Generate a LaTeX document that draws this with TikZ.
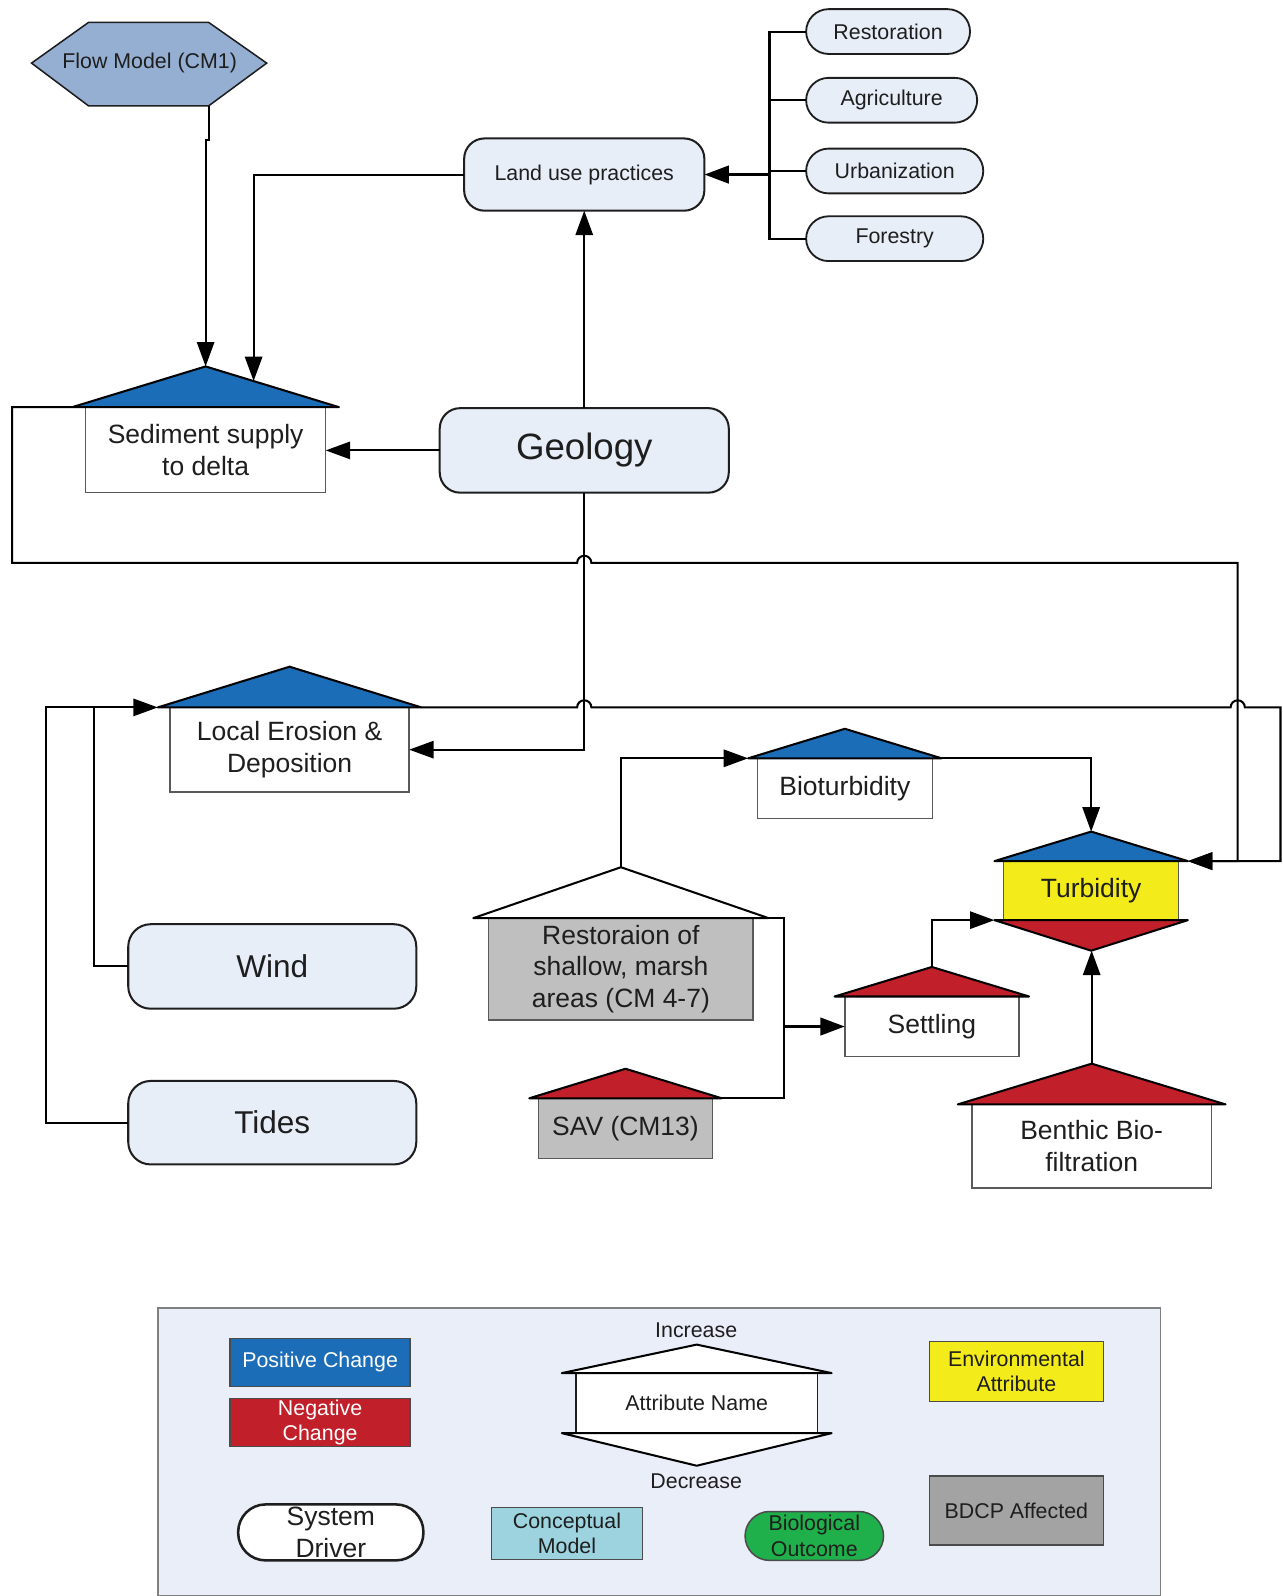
\documentclass[tikz,border=0pt]{standalone}
\usepackage{fontspec}
\setmainfont{Liberation Sans}
\usetikzlibrary{arrows.meta,calc}

\definecolor{posblue}{HTML}{1B6DB7}
\definecolor{negred}{HTML}{C1202A}
\definecolor{envyellow}{HTML}{F3EB1A}
\definecolor{bdcpgray}{HTML}{BFBFBF}
\definecolor{bdcpdark}{HTML}{A3A3A3}
\definecolor{drivefill}{HTML}{E8EEF8}
\definecolor{cmblue}{HTML}{95AFD3}
\definecolor{cmcyan}{HTML}{9CD3DF}
\definecolor{biogreen}{HTML}{1FB04B}
\definecolor{legendfill}{HTML}{E9EEF8}
\definecolor{ink}{HTML}{1E1E1E}

\newcommand\fntS{\fontsize{21}{25}\selectfont}
\newcommand\fntM{\fontsize{26}{31}\selectfont}
\newcommand\fntL{\fontsize{31}{36}\selectfont}
\newcommand\fntXL{\fontsize{36}{42}\selectfont}

% triangle cap above a box: node, overhang, height, fill
\newcommand\uptri[4]{%
  \draw[tri, fill=#4] ([xshift=-#2pt]#1.north west) -- ([yshift=#3pt]#1.north)
    -- ([xshift=#2pt]#1.north east) -- cycle;
  \coordinate (#1-bl) at ([xshift=-#2pt]#1.north west);
  \coordinate (#1-br) at ([xshift=#2pt]#1.north east);
  \coordinate (#1-apex) at ([yshift=#3pt]#1.north);
}
% triangle cap below a box
\newcommand\dntri[4]{%
  \draw[tri, fill=#4] ([xshift=-#2pt]#1.south west) -- ([yshift=-#3pt]#1.south)
    -- ([xshift=#2pt]#1.south east) -- cycle;
  \coordinate (#1-dl) at ([xshift=-#2pt]#1.south west);
  \coordinate (#1-dr) at ([xshift=#2pt]#1.south east);
  \coordinate (#1-dapex) at ([yshift=-#3pt]#1.south);
}

\tikzset{
  every node/.style={outer sep=0pt, inner sep=0pt, text=ink, align=center},
  driver/.style={draw=ink, line width=2pt, fill=drivefill, rounded corners=20pt},
  pill/.style={draw=ink, line width=1.8pt, fill=drivefill, rounded corners=22pt,
    minimum height=44pt, font=\fntS},
  attr/.style={draw=gray!70!black, line width=1.5pt, fill=white, font=\fntM},
  tri/.style={draw=black, line width=2pt, line join=round},
  conn/.style={draw=black, line width=2pt},
  arr/.style={conn, -{Triangle[length=24pt,width=17pt]}},
  thickarr/.style={draw=black, line width=3.2pt, -{Triangle[length=24pt,width=17pt]}},
  legbox/.style={draw=ink!80, line width=1.5pt, font=\fntS},
}

\begin{document}
\begin{tikzpicture}[x=1pt,y=-1pt]
\useasboundingbox (0,0) rectangle (1260,1568);

% ---------- flow model ----------
\draw[fill=cmblue, draw=ink, line width=1.5pt]
  (31,62) -- (87,22) -- (205,22) -- (262,62) -- (205,104) -- (87,104) -- cycle;
\node[font=\fntS] (flow) at (147,62) {Flow Model (CM1)};
\coordinate (flowout) at (205,104);

% ---------- land use and its drivers ----------
\node[driver, minimum width=236pt, minimum height=71pt, font=\fntS] (land) at (574,171.5) {Land use practices};
\node[pill, minimum width=161pt] (p1) at (872.5,31) {Restoration};
\node[pill, minimum width=168pt] (p2) at (876,98.5) {Agriculture};
\node[pill, minimum width=174pt] (p3) at (879,168) {Urbanization};
\node[pill, minimum width=174pt] (p4) at (879,234.5) {Forestry};
\coordinate (bus) at (756,171.5);

% ---------- geology ----------
\node[driver, minimum width=284pt, minimum height=83pt, font=\fntXL] (geo) at (574,442.5) {Geology};

% ---------- attributes ----------
\node[attr, minimum width=236pt, minimum height=84pt] (sed) at (202,442) {Sediment supply\\to delta};
\uptri{sed}{13}{40}{posblue}

\node[attr, minimum width=235pt, minimum height=83pt] (ero) at (284.5,736.5) {Local Erosion \&\\Deposition};
\uptri{ero}{12}{40}{posblue}

\node[attr, minimum width=172pt, minimum height=59pt] (bio) at (830,774.5) {Bioturbidity};
\uptri{bio}{9}{29}{posblue}

\node[attr, fill=envyellow, minimum width=172pt, minimum height=58pt] (turb) at (1072,875) {Turbidity};
\uptri{turb}{9}{29}{posblue}
\dntri{turb}{9}{30}{negred}

\node[attr, fill=bdcpgray, minimum width=260pt, minimum height=100pt] (rest) at (610,952) {Restoraion of\\shallow, marsh\\areas (CM 4-7)};
\uptri{rest}{15}{50}{white}

\node[attr, minimum width=171pt, minimum height=59pt] (settle) at (915.5,1008.5) {Settling};
\uptri{settle}{10}{29}{negred}

\node[attr, fill=bdcpgray, minimum width=171pt, minimum height=59pt] (sav) at (614.5,1108.5) {SAV (CM13)};
\uptri{sav}{9}{29}{negred}

\node[attr, minimum width=235pt, minimum height=82pt] (benth) at (1072.5,1126) {Benthic Bio-\\filtration};
\uptri{benth}{14}{40}{negred}

% ---------- physical drivers ----------
\node[driver, rounded corners=22pt, minimum width=283pt, minimum height=83pt, font=\fntL] (wind) at (267.5,949.5) {Wind};
\node[driver, rounded corners=22pt, minimum width=283pt, minimum height=82pt, font=\fntL] (tides) at (267.5,1103) {Tides};

% ---------- connectors ----------
\draw[arr] (flowout) -- ++(0,34) -| (sed-apex);
\coordinate (sedin) at ($(sed-apex)!0.36!(sed-br)$);
\draw[arr] (land.west) -| (sedin);
\draw[arr] (geo.west) -- (geo.west -| sed.east);
\draw[arr] (geo.north) -- (land.south);
\draw[arr] (geo.south) |- (ero.east);

\draw[conn] (p1.west) -- (p1.west -| bus) |- (p4.west);
\draw[conn] (p2.west) -- (p2.west -| bus);
\draw[conn] (p3.west) -- (p3.west -| bus);
\draw[thickarr] (bus) -- (land.east);

% sediment supply feeding turbidity
\draw[arr] (sed-bl) -- (12,400) -- (12,553) -- (567,553)
  arc[start angle=180, end angle=0, radius=7pt] -- (1216,553) -- (1216,846) -- (turb-br);
% local erosion feeding turbidity
\draw[arr] (ero-br) -- (567,695)
  arc[start angle=180, end angle=0, radius=7pt] -- (1209,695)
  arc[start angle=180, end angle=0, radius=7pt] -- (1258,695) -- (1258,846) -- (turb-br);

% wind and tides
\draw[arr] (wind.west) -- (92,949.5) -- (92,695) -- (ero-bl);
\draw[conn] (tides.west) -- (45,1103) -- (45,695) -- (92,695);

% restoration, SAV, settling
\draw[arr] (rest-apex) |- (bio-bl);
\draw[arr] (bio-br) -| (turb-apex);
\draw[conn] (rest-br) -- (770,902) -- (770,1079) -- (sav-br);
\coordinate (junc) at (770,1008.5);
\draw[thickarr] (junc) -- (settle.west);
\draw[arr] (settle-apex) |- (turb-dl);
\draw[arr] (benth-apex) -- (benth-apex |- turb-dapex);

% ---------- legend ----------
\node[draw=gray, line width=1.5pt, fill=legendfill, minimum width=985pt, minimum height=283pt] (legend) at (647.5,1426.5) {};

\node[legbox, fill=posblue, text=white, minimum width=177pt, minimum height=47pt] (lpos) at (314.5,1338.5) {Positive Change};
\node[legbox, fill=negred, text=white, minimum width=177pt, minimum height=47pt] (lneg) at (314.5,1397.5) {Negative\\Change};

\node[draw=ink, line width=1.5pt, fill=white, font=\fntS, minimum width=237pt, minimum height=59pt] (latt) at (684.5,1378.5) {Attribute Name};
\uptri{latt}{14}{28}{white}
\dntri{latt}{14}{32}{white}
\node[font=\fntS] (linc) at (684,1307) {Increase};
\node[font=\fntS] (ldec) at (684,1455) {Decrease};

\node[legbox, fill=envyellow, minimum width=171pt, minimum height=59pt] (lenv) at (998.5,1347.5) {Environmental\\Attribute};
\node[legbox, fill=bdcpdark, minimum width=171pt, minimum height=68pt] (lbdcp) at (998.5,1484) {BDCP Affected};

\node[draw=ink, line width=2.5pt, fill=white, rounded corners=27pt, font=\fntM, minimum width=182pt, minimum height=55pt] (ldrv) at (325,1505.5) {System\\Driver};
\node[legbox, fill=cmcyan, minimum width=148pt, minimum height=51pt] (lcm) at (557,1506.5) {Conceptual\\Model};
\node[legbox, fill=biogreen, rounded corners=24pt, minimum width=136pt, minimum height=48pt] (lbio) at (800,1509) {Biological\\Outcome};

\end{tikzpicture}
\end{document}
